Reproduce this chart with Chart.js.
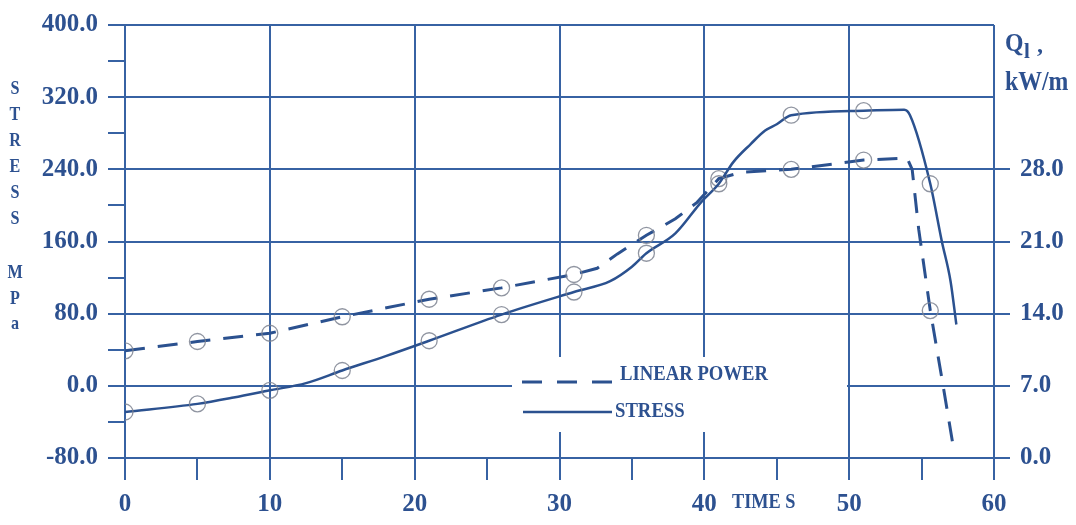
<!DOCTYPE html>
<html>
<head>
<meta charset="utf-8">
<script src="https://cdn.jsdelivr.net/npm/chart.js@4.4.0/dist/chart.umd.min.js"></script>
<style>
  html, body { margin: 0; padding: 0; background: #fff; }
  canvas { display: block; }
</style>
</head>
<body>
<canvas id="chart" width="1076" height="525"></canvas>
<script>
// stress curve (solid), time in s, stress in MPa
var stressTime = [0, 5, 7.5, 10, 12.5, 15, 18, 21, 26, 31, 33.5, 35, 36, 38, 39.8, 41, 42, 43.2, 44.2, 45, 46, 51, 53.8, 54.2, 55.6, 56.4, 57.0, 57.4];
var stressMPa  = [-29, -20, -13, -5, 3, 17, 33, 50, 79, 104, 116, 132, 147, 169, 204, 224, 248, 268, 283, 290, 300, 305, 306, 300, 224, 160, 116, 68];

// linear power (dashed), kW/m on the right axis
var powerTime = [0, 5, 10, 15, 21, 26, 31, 32.6, 34, 36, 38, 39.5, 41, 42.5, 46, 51, 54, 54.35, 54.8, 55.6, 56.5, 57.2];
var powerKW   = [10.4, 11.3, 12.1, 13.7, 15.4, 16.5, 17.8, 18.4, 19.8, 21.6, 23.2, 24.8, 27.1, 27.7, 28.0, 28.9, 29.1, 28.0, 22.2, 14.3, 6.9, 1.0];

// times where the circle markers sit
var markerTimes = [0, 5, 10, 15, 21, 26, 31, 36, 41, 46, 51, 55.6];

var gridColor = '#3762a3';
var textColor = '#2d5190';
var lineColor = '#2b518f';
var clear = 'rgba(0,0,0,0)';
var tickFont = { family: 'Liberation Serif', weight: 'bold', size: 25 };

function toPoints(xs, ys) {
    return xs.map(function (x, i) { return { x: x, y: ys[i] }; });
}

function markerRadius(c) {
    return c.raw && markerTimes.indexOf(c.raw.x) >= 0 ? 8 : 0;
}

function drawText(ctx, text, x, y, size, sx, align) {
    ctx.save();
    ctx.font = 'bold ' + size + 'px "Liberation Serif"';
    ctx.fillStyle = textColor;
    ctx.textBaseline = 'alphabetic';
    ctx.textAlign = align || 'left';
    ctx.translate(x, y);
    ctx.scale(sx, 1);
    ctx.fillText(text, 0, 0);
    ctx.restore();
}

var decor = {
    id: 'decor',
    beforeDatasetsDraw: function (chart) {
        var ctx = chart.ctx;
        ctx.save();
        // legend box hides the grid behind it
        ctx.fillStyle = '#fff';
        ctx.fillRect(512, 357, 335, 75);

        ctx.strokeStyle = lineColor;
        ctx.lineWidth = 3;
        ctx.setLineDash([20, 15]);
        ctx.beginPath();
        ctx.moveTo(522, 382);
        ctx.lineTo(612, 382);
        ctx.stroke();

        ctx.setLineDash([]);
        ctx.lineWidth = 2.5;
        ctx.beginPath();
        ctx.moveTo(523, 412);
        ctx.lineTo(612, 412);
        ctx.stroke();
        ctx.restore();

        drawText(ctx, 'LINEAR POWER', 620, 380, 22, 0.85);
        drawText(ctx, 'STRESS', 615, 417, 22, 0.85);
    },
    afterDraw: function (chart) {
        var ctx = chart.ctx;
        // axis titles
        drawText(ctx, 'TIME S', 732, 508, 22, 0.83);

        var letters = ['S', 'T', 'R', 'E', 'S', 'S'];
        var ys = [94, 120, 146, 172, 198, 224];
        letters.forEach(function (l, i) {
            drawText(ctx, l, 15, ys[i], 19, 0.85, 'center');
        });
        drawText(ctx, 'M', 15, 278, 19, 0.85, 'center');
        drawText(ctx, 'P', 15, 304, 19, 0.85, 'center');
        drawText(ctx, 'a', 15, 329, 19, 0.85, 'center');

        drawText(ctx, 'Q', 1005, 51, 25, 0.95);
        drawText(ctx, 'l', 1024, 58, 21, 1);
        drawText(ctx, ',', 1037, 52, 24, 1);
        drawText(ctx, 'kW/m', 1005, 90, 27, 0.88);
    }
};

var ctx = document.getElementById('chart').getContext('2d');
var myChart = new Chart(ctx, {
    type: 'line',
    data: {
        datasets: [{
            label: 'STRESS',
            data: toPoints(stressTime, stressMPa),
            yAxisID: 'y',
            borderColor: lineColor,
            borderWidth: 2.5,
            cubicInterpolationMode: 'monotone',
            pointRadius: markerRadius,
            pointBorderColor: 'rgba(125,130,145,0.85)',
            pointBackgroundColor: clear,
            pointBorderWidth: 1.3,
            fill: false
        }, {
            label: 'LINEAR POWER',
            data: toPoints(powerTime, powerKW),
            yAxisID: 'y1',
            borderColor: lineColor,
            borderWidth: 3,
            borderDash: [20, 13],
            tension: 0,
            pointRadius: markerRadius,
            pointBorderColor: 'rgba(125,130,145,0.85)',
            pointBackgroundColor: clear,
            pointBorderWidth: 1.3,
            fill: false
        }]
    },
    options: {
        responsive: false,
        devicePixelRatio: 1,
        animation: false,
        layout: { padding: { top: 22, left: 0, right: 0, bottom: 0 } },
        plugins: {
            legend: { display: false },
            tooltip: { enabled: false }
        },
        scales: {
            x: {
                type: 'linear',
                position: 'bottom',
                min: 0,
                max: 60,
                ticks: {
                    stepSize: 5,
                    autoSkip: false,
                    maxRotation: 0,
                    padding: 10,
                    color: textColor,
                    font: tickFont,
                    callback: function (v) { return v % 10 === 0 ? v : ''; }
                },
                grid: {
                    color: function (c) { return c.tick && c.tick.value % 10 === 0 ? gridColor : clear; },
                    tickColor: gridColor,
                    lineWidth: 2,
                    tickLength: 22
                },
                border: { display: true, color: gridColor, width: 2 },
                afterFit: function (s) { s.height = 67; }
            },
            y: {
                position: 'left',
                min: -80,
                max: 400,
                ticks: {
                    stepSize: 40,
                    autoSkip: false,
                    padding: 10,
                    color: textColor,
                    font: tickFont,
                    callback: function (v) { return v % 80 === 0 ? v.toFixed(1) : ''; }
                },
                grid: {
                    color: function (c) { return c.tick && c.tick.value % 80 === 0 ? gridColor : clear; },
                    tickColor: gridColor,
                    lineWidth: 2,
                    tickLength: 17
                },
                border: { display: true, color: gridColor, width: 2 },
                afterFit: function (s) { s.width = 125; }
            },
            y1: {
                position: 'right',
                min: 0,
                max: 42,
                ticks: {
                    stepSize: 7,
                    autoSkip: false,
                    padding: 10,
                    color: textColor,
                    font: tickFont,
                    callback: function (v) { return v <= 28 ? v.toFixed(1) : ''; }
                },
                grid: {
                    drawOnChartArea: false,
                    tickColor: function (c) { return c.tick && c.tick.value <= 28 ? gridColor : clear; },
                    lineWidth: 2,
                    tickLength: 16
                },
                border: { display: false },
                afterFit: function (s) { s.width = 82; }
            }
        }
    },
    plugins: [decor]
});
</script>
</body>
</html>
